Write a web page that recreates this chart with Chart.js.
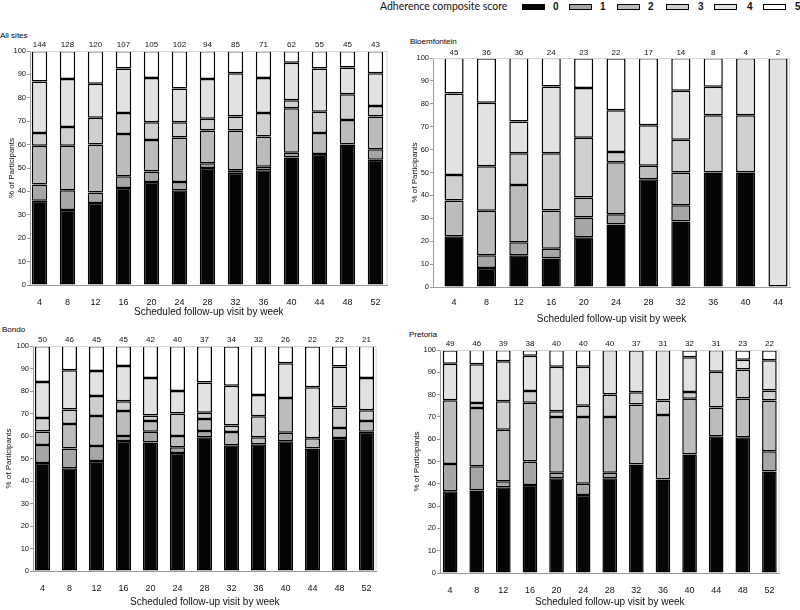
<!DOCTYPE html>
<html><head><meta charset="utf-8">
<script src="https://cdn.jsdelivr.net/npm/chart.js@4.4.1/dist/chart.umd.min.js"></script>
<style>
body{margin:0;background:#fff;width:800px;height:610px;position:relative;overflow:hidden;font-family:"Liberation Sans",Arial,sans-serif;}
canvas{position:absolute;}
.ptitle{position:absolute;font-size:8px;color:#000;line-height:10px;}
#lgTitle{position:absolute;left:380px;top:0px;font-family:Lato,"Open Sans",sans-serif;font-size:10.5px;color:#111;line-height:13px;}
.lbox{position:absolute;top:4px;width:21px;height:4px;border:1px solid #000;}
.llab{position:absolute;top:0px;font-size:10px;font-weight:bold;line-height:13px;color:#111;}
</style></head><body>
<div id="lgTitle">Adherence composite score</div>
<div id="legend"></div>
<div class="ptitle" style="left:0px;top:31px;">All sites</div>
<div class="ptitle" style="left:410px;top:37px;">Bloemfontein</div>
<div class="ptitle" style="left:2px;top:325px;">Bondo</div>
<div class="ptitle" style="left:409px;top:330px;">Pretoria</div>
<canvas id="c1" width="400" height="295" style="left:0px;top:30px;"></canvas>
<canvas id="c2" width="400" height="295" style="left:400px;top:30px;"></canvas>
<canvas id="c3" width="400" height="285" style="left:0px;top:325px;"></canvas>
<canvas id="c4" width="400" height="285" style="left:400px;top:325px;"></canvas>
<script>
// ---- data ----
const scoreLabels = ['0','1','2','3','4','5'];
const weeks13 = [4,8,12,16,20,24,28,32,36,40,44,48,52];
const weeks11 = [4,8,12,16,20,24,28,32,36,40,44];

const nAll = [144,128,120,107,105,102,94,85,71,62,55,45,43];
const all0 = [36,32,35,41.5,44,40.5,50,48,49,54.5,56,60,53.5];
const all1 = [7,8.5,4.5,5,4.5,3.5,2,1,1.5,2,0,0,4.5];
const all2 = [16.5,19,20.5,18,13.5,19,14,17,13,19,9,10.5,14];
const all3 = [5.5,8,11.5,9,7.5,6.5,5,6,10,3.5,9,11,4.5];
const all4 = [22,20.5,14.5,19,19,14.5,17,18.5,15,16,18.5,11.5,14];
const all5 = [13,12,14,7.5,11.5,16,12,9.5,11.5,5,7.5,7,9.5];

const nBloem = [45,36,36,24,23,22,17,14,8,4,2];
const bl0 = [22.2,8.3,13.9,12.5,21.7,27.3,47.1,28.6,50,50,0];
const bl1 = [0,5.6,5.6,4.2,8.7,4.5,0,7.1,0,0,0];
const bl2 = [15.6,19.4,25,16.7,8.7,22.7,5.9,14.3,0,0,0];
const bl3 = [11.1,19.4,13.9,25,26.1,4.5,0,14.3,25,25,0];
const bl4 = [35.6,27.8,13.9,29.2,21.7,18.2,17.6,21.4,12.5,25,100];
const bl5 = [15.6,19.4,27.8,12.5,13.0,22.7,29.4,14.3,12.5,0,0];

const nBondo = [50,46,45,45,42,40,37,34,32,26,22,22,21];
const bo0 = [48,45.7,48.9,57.8,57.1,52.5,59.5,55.9,56.3,57.7,54.5,59.1,61.9];
const bo1 = [8,8.7,6.7,2.2,4.8,2.5,2.7,0,0,3.8,0,0,0];
const bo2 = [6,10.9,13.3,11.1,4.8,5,5.4,5.9,3.1,15.4,4.5,4.5,4.8];
const bo3 = [6,6.5,8.9,4.4,2.4,10,2.7,2.9,9.4,0,0,9.1,4.8];
const bo4 = [16,17.4,11.1,15.6,16.7,10,13.5,17.6,9.4,15.4,22.7,18.2,14.3];
const bo5 = [16,10.9,11.1,8.9,14.3,20,16.2,17.6,21.9,7.7,18.2,9.1,14.3];

const nPret = [49,46,39,38,40,40,40,37,31,32,31,23,22];
const pr0 = [36.7,37,38.5,39.5,42.5,35,42.5,48.6,41.9,53.1,61.3,60.9,45.5];
const pr1 = [12.2,10.9,2.6,10.5,2.5,5,2.5,0,0,0,0,0,9.1];
const pr2 = [28.6,26.1,23.1,26.3,25,30,25,27,29,25,12.9,17.4,22.7];
const pr3 = [0,2.2,12.8,5.3,2.5,5,10,5.4,6.5,3.1,16.1,13,4.5];
const pr4 = [16.3,17.4,17.9,15.8,20,17.5,20,18.9,22.6,15.6,9.7,4.3,13.6];
const pr5 = [6.1,6.5,5.1,2.6,7.5,7.5,0,0,0,3.1,0,4.3,4.5];

// ---- styles ----
const fills = ['#050505','#a6a6a6','#bcbcbc','#cfcfcf','#e2e2e2','#ffffff'];
const FONT = '"Liberation Sans", Arial, sans-serif';

// legend (HTML)
const legPos = [[522,553],[569,600],[617,648],[666,698],[714,747],[763,795]];
const lg = document.getElementById('legend');
scoreLabels.forEach((s,i)=>{
  const b=document.createElement('div'); b.className='lbox';
  b.style.left=legPos[i][0]+'px'; b.style.background=fills[i]; lg.appendChild(b);
  const t=document.createElement('div'); t.className='llab';
  t.style.left=legPos[i][1]+'px'; t.textContent=s; lg.appendChild(t);
});

const framePlugin = {
  id:'frameN',
  afterDatasetsDraw(chart, args, o){
    const {ctx, chartArea:a} = chart;
    ctx.save();
    ctx.strokeStyle='#d2d2d2'; ctx.lineWidth=1;
    ctx.beginPath();
    ctx.moveTo(a.left, a.top+0.5); ctx.lineTo(a.right-0.5, a.top+0.5); ctx.lineTo(a.right-0.5, a.bottom);
    ctx.stroke();
    const xs = chart.scales.x;
    ctx.fillStyle='#111'; ctx.font='8px '+FONT; ctx.textAlign='center'; ctx.textBaseline='middle';
    o.counts.forEach((n,i)=>{ ctx.fillText(String(n), xs.getPixelForValue(o.weeks[i]), a.top - o.gap); });
    ctx.restore();
  }
};

function makeChart(id, weeks, counts, series, cfg){
  new Chart(document.getElementById(id), {
    type:'bar',
    data:{
      labels: weeks,
      datasets: series.map((d,i)=>({
        label: scoreLabels[i], data: d, backgroundColor: fills[i],
        borderColor:'#000', borderWidth:1.5, borderSkipped:false,
        barPercentage: cfg.bp, categoryPercentage:1
      }))
    },
    options:{
      responsive:false, animation:false, devicePixelRatio:1,
      layout:{padding:{top:cfg.pt, right:cfg.pr, left:0, bottom:0}},
      plugins:{legend:{display:false}, tooltip:{enabled:false}, frameN:{counts, weeks, gap:cfg.gap}},
      scales:{
        x:{type:'linear', offset:false, stacked:true, min:cfg.xmin, max:cfg.xmax,
           afterBuildTicks(s){ s.ticks = weeks.map(v=>({value:v})); },
           grid:{display:false, drawTicks:false, offset:false}, border:{display:true, color:'#9a9a9a'},
           ticks:{padding:cfg.tp, font:{size:9, family:FONT}, color:'#111', maxRotation:0, autoSkip:false},
           title:{display:true, text:'Scheduled follow-up visit by week', font:{size:10, family:FONT}, color:'#111', padding:{top:0,bottom:cfg.xtb}},
           afterFit(s){ s.height = cfg.xh; s.paddingLeft = 0; s.paddingRight = 0; }},
        y:{stacked:true, min:0, max:100,
           ticks:{stepSize:10, font:{size:7.5, family:FONT}, color:'#111', padding:1},
           grid:{drawOnChartArea:false, drawTicks:true, tickLength:3, color:'#9a9a9a'},
           border:{color:'#9a9a9a'},
           title:{display:true, text:'% of Participants', font:{size:8, family:FONT}, color:'#111', padding:{top:cfg.ytp,bottom:0}},
           afterFit(s){ s.width = cfg.yw; s.paddingTop = 0; s.paddingBottom = 0; }}
      }
    },
    plugins:[framePlugin]
  });
}

makeChart('c1', weeks13, nAll, [all0,all1,all2,all3,all4,all5],
  {bp:0.55, pt:21, pr:12.5, xh:40, yw:30, tp:12, xtb:7, ytp:7, gap:6, xmin:2.64, xmax:53.72});
makeChart('c2', weeks11, nBloem, [bl0,bl1,bl2,bl3,bl4,bl5],
  {bp:0.59, pt:28, pr:10, xh:38, yw:33, tp:10, xtb:0, ytp:10, gap:5, xmin:1.4, xmax:45.48});
makeChart('c3', weeks13, nBondo, [bo0,bo1,bo2,bo3,bo4,bo5],
  {bp:0.56, pt:21, pr:23.5, xh:39, yw:33, tp:12, xtb:2, ytp:4, gap:6, xmin:2.6, xmax:53.48});
makeChart('c4', weeks13, nPret, [pr0,pr1,pr2,pr3,pr4,pr5],
  {bp:0.55, pt:25, pr:20.5, xh:37, yw:40, tp:12, xtb:2, ytp:12, gap:6, xmin:2.48, xmax:53.52});
</script>
</body></html>
